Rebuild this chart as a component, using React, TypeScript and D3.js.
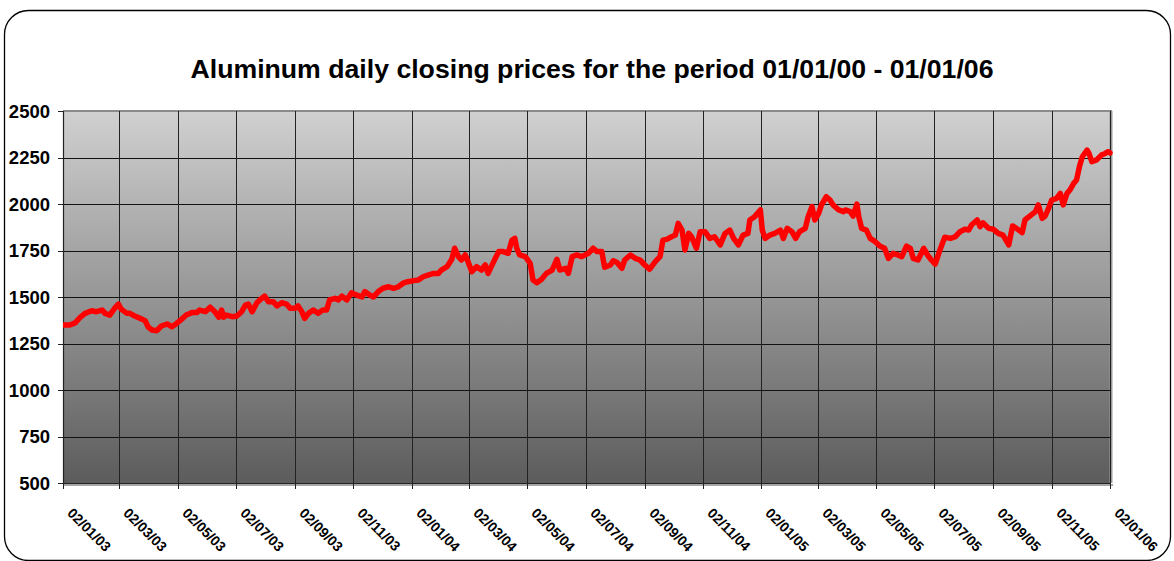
import React from "react";
import * as d3 from "d3";

const chartTitle = "Aluminum daily closing prices for the period 01/01/00 - 01/01/06";
const startDate = "02/01/03";
const endDate = "02/01/06";
const yTicks = [500, 750, 1000, 1250, 1500, 1750, 2000, 2250, 2500];
const xTickLabels = [
  "02/01/03", "02/03/03", "02/05/03", "02/07/03", "02/09/03", "02/11/03",
  "02/01/04", "02/03/04", "02/05/04", "02/07/04", "02/09/04", "02/11/04",
  "02/01/05", "02/03/05", "02/05/05", "02/07/05", "02/09/05", "02/11/05",
  "02/01/06",
];

// days since 02/01/03
const dayOffsets = [
  0, 7, 13, 18, 23, 30, 35, 41, 44, 49, 54, 58, 61, 67, 70, 75, 81, 86, 89, 93,
  98, 103, 109, 114, 119, 124, 129, 135, 140, 143, 149, 154, 159, 163, 166, 168, 171, 177, 182, 187,
  191, 194, 198, 203, 206, 211, 215, 220, 224, 229, 234, 238, 243, 246, 250, 253, 257, 262, 267, 272,
  276, 279, 285, 288, 292, 297, 302, 307, 313, 316, 321, 325, 330, 335, 341, 346, 351, 356, 361, 367,
  372, 377, 382, 388, 393, 396, 402, 407, 410, 414, 417, 421, 424, 428, 433, 438, 442, 445, 450, 456,
  461, 466, 470, 473, 475, 478, 484, 489, 492, 496, 501, 506, 512, 517, 520, 526, 529, 533, 538, 543,
  550, 555, 559, 564, 567, 573, 576, 580, 585, 588, 594, 599, 604, 609, 614, 620, 625, 628, 632, 637,
  641, 644, 648, 651, 655, 658, 663, 667, 672, 677, 682, 688, 693, 698, 702, 707, 712, 717, 719, 724,
  730, 732, 735, 740, 745, 751, 754, 758, 763, 767, 771, 777, 780, 784, 787, 791, 794, 799, 803, 806,
  812, 817, 819, 824, 827, 831, 833, 836, 841, 845, 850, 855, 860, 864, 869, 874, 878, 883, 887, 890,
  895, 901, 905, 909, 913, 918, 923, 929, 934, 939, 944, 948, 951, 957, 960, 963, 969, 974, 979, 984,
  990, 994, 998, 1004, 1007, 1012, 1018, 1021, 1025, 1028, 1031, 1035, 1040, 1044, 1047, 1051, 1054, 1058, 1061, 1064,
  1067, 1072, 1074, 1077, 1082, 1087, 1091, 1094, 1096,
];

const prices = [
  1349, 1349, 1362, 1391, 1412, 1426, 1421, 1430, 1412, 1403, 1439, 1462, 1434, 1412, 1412, 1398, 1385, 1373, 1340, 1323,
  1319, 1344, 1355, 1340, 1358, 1380, 1403, 1416, 1416, 1430, 1421, 1445, 1421, 1391, 1430, 1391, 1403, 1394, 1398, 1421,
  1457, 1462, 1421, 1469, 1484, 1505, 1475, 1475, 1452, 1469, 1462, 1439, 1439, 1452, 1421, 1385, 1412, 1430, 1412, 1430,
  1430, 1484, 1493, 1484, 1505, 1484, 1523, 1511, 1500, 1529, 1511, 1500, 1529, 1547, 1555, 1547, 1555, 1574, 1582, 1588,
  1591, 1609, 1618, 1627, 1627, 1645, 1663, 1703, 1762, 1717, 1699, 1726, 1690, 1636, 1663, 1645, 1672, 1627, 1681, 1744,
  1744, 1735, 1806, 1815, 1762, 1726, 1717, 1681, 1591, 1577, 1595, 1627, 1645, 1703, 1645, 1654, 1627, 1717, 1726, 1717,
  1735, 1762, 1744, 1744, 1660, 1672, 1695, 1685, 1654, 1699, 1726, 1708, 1699, 1672, 1649, 1690, 1717, 1806, 1810, 1824,
  1833, 1896, 1860, 1753, 1842, 1824, 1762, 1851, 1851, 1815, 1824, 1780, 1842, 1860, 1815, 1780, 1833, 1842, 1914, 1932,
  1968, 1860, 1815, 1833, 1842, 1860, 1815, 1869, 1851, 1815, 1851, 1869, 1932, 1986, 1914, 1950, 1995, 2039, 2021, 1995,
  1968, 1959, 1968, 1959, 1935, 2000, 1932, 1869, 1860, 1815, 1798, 1774, 1762, 1708, 1735, 1726, 1717, 1774, 1762, 1708,
  1699, 1762, 1726, 1699, 1677, 1753, 1821, 1815, 1824, 1851, 1864, 1860, 1887, 1914, 1878, 1899, 1869, 1864, 1842, 1833,
  1780, 1882, 1869, 1846, 1914, 1935, 1959, 1995, 1923, 1935, 1968, 2021, 2030, 2057, 1995, 2057, 2075, 2111, 2129, 2201,
  2254, 2290, 2272, 2228, 2237, 2263, 2272, 2281, 2275,
];

const W = 1174;
const H = 561;
const plot = { left: 63, right: 1110, top: 111, bottom: 483 };
const font = "'Liberation Sans', Arial, Helvetica, sans-serif";

export default function App() {
  const parse = d3.timeParse("%d/%m/%y");
  const t0 = parse(startDate) as Date;
  const t1 = parse(endDate) as Date;
  const x = d3.scaleTime().domain([t0, t1]).range([plot.left, plot.right]);
  const y = d3.scaleLinear().domain([500, 2500]).range([plot.bottom, plot.top]);

  const data = dayOffsets.map((d, i) => ({ date: d3.timeDay.offset(t0, d), value: prices[i] }));
  const line = d3
    .line<{ date: Date; value: number }>()
    .x((d) => x(d.date))
    .y((d) => y(d.value));

  const xTicks = xTickLabels.map((l) => ({ label: l, date: parse(l) as Date }));

  return (
    <svg
      width={W}
      height={H}
      style={{ position: "absolute", left: 0, top: 0, background: "#fff" }}
      fontFamily={font}
    >
      <defs>
        <linearGradient id="plotBg" x1="0" y1="0" x2="0" y2="1">
          <stop offset="0" stopColor="#d0d0d0" />
          <stop offset="1" stopColor="#5c5c5c" />
        </linearGradient>
        <clipPath id="plotClip">
          <rect x={plot.left} y={plot.top - 10} width={plot.right - plot.left + 3} height={plot.bottom - plot.top + 20} />
        </clipPath>
      </defs>
      <rect x={0} y={0} width={W} height={H} fill="#fff" />
      <rect x={4.5} y={10.5} width={1166} height={550} rx={24} ry={24} fill="#fff" stroke="#000" strokeWidth={1.3} />

      <text
        x={592}
        y={78}
        textAnchor="middle"
        fontSize={26}
        fontWeight="bold"
        fill="#000"
        textLength={803}
        lengthAdjust="spacingAndGlyphs"
      >
        {chartTitle}
      </text>

      <rect
        x={plot.left}
        y={plot.top}
        width={plot.right - plot.left}
        height={plot.bottom - plot.top}
        fill="url(#plotBg)"
      />
      {/* plot border */}
      <line x1={plot.left} x2={plot.right + 2} y1={plot.top} y2={plot.top} stroke="#8a8a8a" strokeWidth={2} />
      <line x1={plot.right + 1} x2={plot.right + 1} y1={plot.top} y2={plot.bottom} stroke="#9a9a9a" strokeWidth={3} />

      {/* horizontal grid */}
      {yTicks.slice(1, -1).map((v) => (
        <line key={v} x1={plot.left} x2={plot.right} y1={Math.round(y(v)) + 0.5} y2={Math.round(y(v)) + 0.5} stroke="#111" strokeWidth={1} />
      ))}
      {/* vertical grid */}
      {xTicks.slice(1, -1).map((t) => (
        <line key={t.label} x1={Math.round(x(t.date)) + 0.5} x2={Math.round(x(t.date)) + 0.5} y1={plot.top} y2={plot.bottom} stroke="#222" strokeWidth={1} />
      ))}
      <line x1={plot.right + 0.5} x2={plot.right + 0.5} y1={plot.top} y2={plot.bottom} stroke="#222" strokeWidth={1} />

      {/* axes */}
      <line x1={plot.left + 0.5} x2={plot.left + 0.5} y1={plot.top} y2={plot.bottom} stroke="#222" strokeWidth={1.2} />
      <line x1={plot.left} x2={plot.right} y1={plot.bottom + 0.5} y2={plot.bottom + 0.5} stroke="#222" strokeWidth={1.2} />
      <line x1={plot.left} x2={plot.right + 3} y1={plot.bottom + 2} y2={plot.bottom + 2} stroke="#8a8a8a" strokeWidth={1.5} />

      {yTicks.map((v) => (
        <g key={v}>
          <line x1={plot.left - 5} x2={plot.left} y1={Math.round(y(v)) + 0.5} y2={Math.round(y(v)) + 0.5} stroke="#222" />
          <text x={50} y={y(v) + 6.5} textAnchor="end" fontSize={18.5} fontWeight="bold" fill="#000">
            {v}
          </text>
        </g>
      ))}
      {xTicks.map((t) => {
        const tx = Math.round(x(t.date)) + 0.5;
        return (
          <g key={t.label}>
            <line x1={tx} x2={tx} y1={plot.bottom} y2={plot.bottom + 6} stroke="#222" />
            <text
              transform={`translate(${tx + 3},${plot.bottom + 31}) rotate(45)`}
              fontSize={14}
              fontWeight="bold"
              fill="#000"
            >
              {t.label}
            </text>
          </g>
        );
      })}

      <path
        d={line(data) || ""}
        fill="none"
        stroke="#ff0000"
        strokeWidth={5.5}
        strokeLinejoin="round"
        strokeLinecap="round"
        clipPath="url(#plotClip)"
      />
    </svg>
  );
}
